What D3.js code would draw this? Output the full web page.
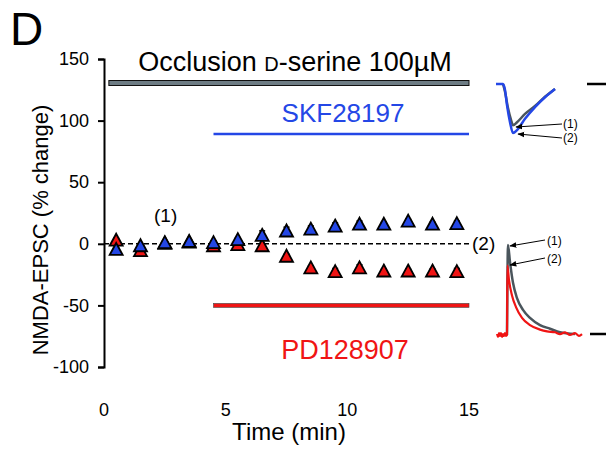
<!DOCTYPE html>
<html>
<head>
<meta charset="utf-8">
<script src="https://cdn.jsdelivr.net/npm/d3@7"></script>
<style>
  body { margin: 0; background: #fff; }
  svg { font-family: "Liberation Sans", Arial, sans-serif; }
</style>
</head>
<body>
<div id="canvas"></div>
<script>
// time points (min)
const times = [0.5, 1.5, 2.5, 3.5, 4.5, 5.5, 6.5, 7.5, 8.5, 9.5, 10.5, 11.5, 12.5, 13.5, 14.5]

// % change, SKF28197 (blue) and PD128907 (red)
const skf = [-5, -2, 0.5, 1.5, 0.5, 3, 6.5, 10, 11.5, 14, 15.5, 15.5, 18, 15.5, 16]
const skfErr = [2, 2, 1.5, 1.5, 2, 2, 4, 3.5, 3, 3, 3, 2, 2, 2, 2.5]
const pd = [2.5, -6, 0, 1, -2, -1, -2, -10.5, -20, -23, -20, -22.5, -22.5, -22.5, -23]
const pdErr = [2, 2, 1.5, 1.5, 2, 2, 2, 2, 2, 3, 3, 2, 2, 2, 3]

const xTicks = [0, 5, 10, 15]
const yTicks = [-100, -50, 0, 50, 100, 150]

// example traces (ms, amplitude)
const skfTrace1 = [[7, 0], [9, -16], [12, -49], [15, -73], [17, -84], [21, -78], [29, -61], [39, -45], [49, -26], [59, -10]]
const skfTrace2 = [[0, 0], [7, 0], [9, -12], [11, -43], [14, -78], [17, -100], [21, -94], [29, -71], [39, -47], [49, -27], [59, -10]]
const pdTrace1 = [[10, 0], [11, 100], [13, 81], [16, 58], [20, 41], [26, 28], [33, 19], [43, 11], [53, 7], [63, 3], [78, 1]]
const pdTrace2 = [[0, 1], [1, -2], [2, 2], [3, -1], [4, 2], [5, -2], [6, 1], [7, -1], [8, 2], [9, -1], [10, 0], [10.4, 77], [12, 61], [15, 44], [19, 31], [25, 19], [33, 11], [43, 6], [50, 4], [58, 3], [63, 1], [68, 3], [73, 0], [78, 2], [82, -1], [85, 1]]

const width = 606
const height = 452

const blue = '#2447e6'
const red = '#f01414'

const svg = d3.select('#canvas')
  .append('svg')
    .attr('width', width)
    .attr('height', height)

const x = d3.scaleLinear()
  .domain([0, 15])
  .range([104, 469])

const y = d3.scaleLinear()
  .domain([-100, 150])
  .range([367, 59])

// y axis
const yAxis = svg.append('g')
  .attr('transform', 'translate(104,0)')
  .call(d3.axisLeft(y).tickValues(yTicks).tickFormat(d => String(d))
    .tickSize(6).tickSizeOuter(6).tickPadding(9))
yAxis.select('.domain').attr('stroke-width', 2)
yAxis.selectAll('.tick line').attr('stroke-width', 2)
yAxis.selectAll('.tick text')
  .attr('font-size', 18)
  .attr('font-family', '"Liberation Sans", Arial, sans-serif')
  .attr('fill', '#000')

// x tick labels only, no axis line
svg.append('g')
  .selectAll('text')
  .data(xTicks)
  .join('text')
    .attr('x', d => x(d))
    .attr('y', 416)
    .attr('text-anchor', 'middle')
    .attr('font-size', 18)
    .text(d => d)

svg.append('text')
  .attr('x', 289)
  .attr('y', 440)
  .attr('text-anchor', 'middle')
  .attr('font-size', 24)
  .text('Time (min)')

svg.append('text')
  .attr('transform', 'translate(48,230) rotate(-90)')
  .attr('text-anchor', 'middle')
  .attr('font-size', 22)
  .text('NMDA-EPSC (% change)')

svg.append('text')
  .attr('x', 10)
  .attr('y', 45)
  .attr('font-size', 46)
  .text('D')

// title with small-caps D
const title = svg.append('text')
  .attr('x', 295)
  .attr('y', 71)
  .attr('text-anchor', 'middle')
  .attr('font-size', 27)
title.append('tspan').text('Occlusion ')
title.append('tspan').attr('font-size', 20).text('D')
title.append('tspan').text('-serine 100µM')

// drug bars
svg.append('rect')
  .attr('x', x(0.2)).attr('y', 80.5)
  .attr('width', x(15) - x(0.2)).attr('height', 5)
  .attr('fill', '#6d7c84').attr('stroke', '#111').attr('stroke-width', 1)

svg.append('line')
  .attr('x1', x(4.5)).attr('x2', x(15))
  .attr('y1', 134).attr('y2', 134)
  .attr('stroke', blue).attr('stroke-width', 2.5)

svg.append('text')
  .attr('x', 343).attr('y', 122)
  .attr('text-anchor', 'middle')
  .attr('font-size', 26)
  .attr('fill', blue)
  .text('SKF28197')

svg.append('rect')
  .attr('x', x(4.5)).attr('y', y(-50) - 2)
  .attr('width', x(15) - x(4.5)).attr('height', 4)
  .attr('fill', red).attr('stroke', '#444').attr('stroke-width', 0.6)

svg.append('text')
  .attr('x', 345).attr('y', 359)
  .attr('text-anchor', 'middle')
  .attr('font-size', 27)
  .attr('fill', red)
  .text('PD128907')

// baseline
svg.append('line')
  .attr('x1', x(0)).attr('x2', x(15))
  .attr('y1', y(0)).attr('y2', y(0))
  .attr('stroke', '#000').attr('stroke-width', 1.5)
  .attr('stroke-dasharray', '5,3')

svg.append('text').attr('x', 154).attr('y', 222).attr('font-size', 19).text('(1)')
svg.append('text').attr('x', 472).attr('y', 250).attr('font-size', 19).text('(2)')

const tri = 'M0,-7L6.5,5L-6.5,5Z'

function drawSeries(vals, errs, color) {
  const g = svg.append('g')
  g.selectAll('line')
    .data(vals)
    .join('line')
      .attr('x1', (d, i) => x(times[i]))
      .attr('x2', (d, i) => x(times[i]))
      .attr('y1', d => y(d))
      .attr('y2', (d, i) => y(d + errs[i]))
      .attr('stroke', '#000').attr('stroke-width', 1.5)
  g.selectAll('.cap')
    .data(vals)
    .join('line')
      .attr('class', 'cap')
      .attr('x1', (d, i) => x(times[i]) - 3)
      .attr('x2', (d, i) => x(times[i]) + 3)
      .attr('y1', (d, i) => y(d + errs[i]))
      .attr('y2', (d, i) => y(d + errs[i]))
      .attr('stroke', '#000').attr('stroke-width', 1.5)
  g.selectAll('path')
    .data(vals)
    .join('path')
      .attr('d', tri)
      .attr('transform', (d, i) => `translate(${x(times[i])},${y(d)})`)
      .attr('fill', color)
      .attr('stroke', '#000')
      .attr('stroke-width', 1.8)
      .attr('stroke-linejoin', 'miter')
}

drawSeries(pd, pdErr, red)
drawSeries(skf, skfErr, blue)

// insets
const defs = svg.append('defs')
defs.append('marker')
  .attr('id', 'arrow')
  .attr('viewBox', '0 0 10 10')
  .attr('refX', 9).attr('refY', 5)
  .attr('markerWidth', 7).attr('markerHeight', 7)
  .attr('orient', 'auto')
  .append('path')
    .attr('d', 'M0,1L10,5L0,9Z')
    .attr('fill', '#000')

const tx1 = d3.scaleLinear().domain([0, 60]).range([496, 556])
const ty1 = d3.scaleLinear().domain([0, -100]).range([84, 133])
const line1 = d3.line().x(d => tx1(d[0])).y(d => ty1(d[1])).curve(d3.curveMonotoneX)

svg.append('path').attr('d', line1(skfTrace1))
  .attr('fill', 'none').attr('stroke', '#4a555c').attr('stroke-width', 2.5)
svg.append('path').attr('d', line1(skfTrace2))
  .attr('fill', 'none').attr('stroke', blue).attr('stroke-width', 2.5)

const tx2 = d3.scaleLinear().domain([0, 85]).range([497, 582])
const ty2 = d3.scaleLinear().domain([0, 100]).range([335, 245])
const line2 = d3.line().x(d => tx2(d[0])).y(d => ty2(d[1])).curve(d3.curveMonotoneX)

svg.append('path').attr('d', line2(pdTrace1))
  .attr('fill', 'none').attr('stroke', '#4a555c').attr('stroke-width', 2.5)
svg.append('path').attr('d', line2(pdTrace2))
  .attr('fill', 'none').attr('stroke', red).attr('stroke-width', 2.2)

const arrows = [
  { x1: 562, y1: 124, x2: 516, y2: 127, label: '(1)', lx: 563, ly: 128 },
  { x1: 562, y1: 138, x2: 518, y2: 134, label: '(2)', lx: 563, ly: 142 },
  { x1: 545, y1: 240, x2: 510, y2: 246, label: '(1)', lx: 547, ly: 245 },
  { x1: 545, y1: 258, x2: 510, y2: 265, label: '(2)', lx: 547, ly: 263 }
]
arrows.forEach(a => {
  svg.append('line')
    .attr('x1', a.x1).attr('y1', a.y1).attr('x2', a.x2).attr('y2', a.y2)
    .attr('stroke', '#000').attr('stroke-width', 1)
    .attr('marker-end', 'url(#arrow)')
  svg.append('text').attr('x', a.lx).attr('y', a.ly).attr('font-size', 12).text(a.label)
})

// scale marks
svg.append('line').attr('x1', 587).attr('x2', 606).attr('y1', 84).attr('y2', 84)
  .attr('stroke', '#000').attr('stroke-width', 2.5)
svg.append('line').attr('x1', 590).attr('x2', 606).attr('y1', 334).attr('y2', 334)
  .attr('stroke', '#000').attr('stroke-width', 2.5)
</script>
</body>
</html>
